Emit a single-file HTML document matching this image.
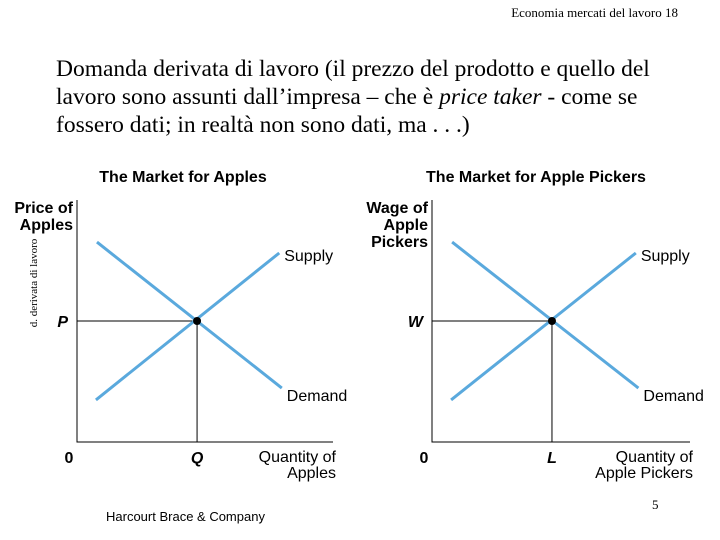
<!DOCTYPE html>
<html><head><meta charset="utf-8"><style>
body{margin:0;width:720px;height:540px;background:#fff;overflow:hidden;position:relative;font-family:"Liberation Sans",sans-serif}
.t{position:absolute;white-space:nowrap}
.serif{font-family:"Liberation Serif",serif}
</style></head><body>
<div class="t serif" style="right:42px;top:5px;font-size:13px">Economia mercati del lavoro 18</div>
<div class="t serif" style="left:56px;top:55px;font-size:23.5px;line-height:28px">Domanda derivata di lavoro (il prezzo del prodotto e quello del<br>lavoro sono assunti dall’impresa – che è <i>price taker</i> - come se<br>fossero dati; in realtà non sono dati, ma . . .)</div>
<div class="t serif" style="left:-26px;top:277px;font-size:11px;transform:rotate(-90deg);transform-origin:center;width:120px;text-align:center">d. derivata di lavoro</div>
<div class="t" style="left:106px;top:509px;font-size:13px">Harcourt Brace &amp; Company</div>
<div class="t serif" style="left:652px;top:497px;font-size:13px">5</div>
<svg id="chart" width="720" height="540" style="position:absolute;left:0;top:0"></svg>
<script>
const demandX=[0.78,8.0];
const demandY=[8.26,2.23];
const supplyX=[0.74,7.9];
const supplyY=[1.74,7.81];
const eqX=[4.69,4.65];
const eqY=[5.0,5.0];
const titles=["The Market for Apples","The Market for Apple Pickers"];
const yTitles=[["Price of","Apples"],["Wage of","Apple","Pickers"]];
const xTitles=[["Quantity of","Apples"],["Quantity of","Apple Pickers"]];
const priceLabels=["P","W"];
const qtyLabels=["Q","L"];
const panels=[{x0:77,x1:333,y0:442,y1:200,tc:183},{x0:432,x1:690,y0:442,y1:200,tc:536}];
const svg=document.getElementById('chart');
const NS='http://www.w3.org/2000/svg';
function mk(tag,attrs,txt){const e=document.createElementNS(NS,tag);for(const k in attrs)e.setAttribute(k,attrs[k]);if(txt!=null)e.textContent=txt;svg.appendChild(e);return e;}
panels.forEach((p,i)=>{
 const sx=v=>p.x0+v*(p.x1-p.x0)/10, sy=v=>p.y0-v*(p.y0-p.y1)/10;
 let e=mk('path',{d:`M${p.x0} ${p.y1}V${p.y0}H${p.x1}`,fill:'none',stroke:'#000','stroke-width':1});
 
 e=mk('line',{x1:p.x0,y1:sy(eqY[i]),x2:sx(eqX[i]),y2:sy(eqY[i]),stroke:'#000','stroke-width':1});
 
 e=mk('line',{x1:sx(eqX[i]),y1:sy(eqY[i]),x2:sx(eqX[i]),y2:p.y0,stroke:'#000','stroke-width':1});
 
 e=mk('line',{x1:sx(demandX[0]),y1:sy(demandY[0]),x2:sx(demandX[1]),y2:sy(demandY[1]),stroke:'#5aa9dd','stroke-width':3});
 
 e=mk('line',{x1:sx(supplyX[0]),y1:sy(supplyY[0]),x2:sx(supplyX[1]),y2:sy(supplyY[1]),stroke:'#5aa9dd','stroke-width':3});
 
 e=mk('circle',{cx:sx(eqX[i]),cy:sy(eqY[i]),r:4,fill:'#000'});
 
 const F='font-family:"Liberation Sans",sans-serif;font-size:16px;';
 e=mk('text',{x:p.tc,y:182,'text-anchor':'middle',style:F+'font-weight:bold;font-size:16px'},titles[i]);
 
 yTitles[i].forEach((s,j)=>{e=mk('text',{x:p.x0-4,y:213+j*17,'text-anchor':'end',style:F+'font-weight:bold'},s);
 });
 xTitles[i].forEach((s,j)=>{e=mk('text',{x:p.x1+3,y:462+j*16,'text-anchor':'end',style:F},s);
 });
 e=mk('text',{x:sx(supplyX[1])+5,y:sy(supplyY[1])+8,style:F},'Supply');
 
 e=mk('text',{x:sx(demandX[1])+5,y:sy(demandY[1])+13,style:F},'Demand');
 
 e=mk('text',{x:p.x0-9,y:sy(eqY[i])+6,'text-anchor':'end',style:F+'font-weight:bold;font-style:italic'},priceLabels[i]);
 
 e=mk('text',{x:sx(eqX[i]),y:463,'text-anchor':'middle',style:F+'font-weight:bold;font-style:italic'},qtyLabels[i]);
 
 e=mk('text',{x:p.x0-8,y:463,'text-anchor':'middle',style:F+'font-weight:bold'},'0');
 
});
</script>
</body></html>
